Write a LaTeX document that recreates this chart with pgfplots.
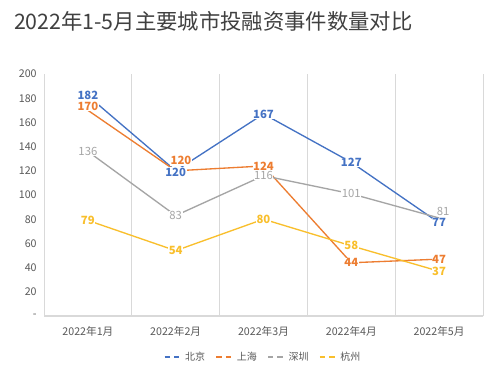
\documentclass[border=0pt]{standalone}
\usepackage{pgfplots}
\pgfplotsset{compat=1.18}
\usepackage{fontspec}
\setmainfont{Noto Sans CJK SC}
\definecolor{cbj}{HTML}{4472C4}
\definecolor{csh}{HTML}{ED7D31}
\definecolor{csz}{HTML}{A5A5A5}
\definecolor{chz}{HTML}{F9BF2C}
\definecolor{tick}{HTML}{595959}
\definecolor{grd}{HTML}{D9D9D9}
\begin{document}
\begin{tikzpicture}
\useasboundingbox[fill=white] (0,0) rectangle (375pt,282pt);
\node[anchor=west,text=black!75,font=\fontsize{16pt}{18pt}\selectfont] at (7pt,266pt) {2022年1-5月主要城市投融资事件数量对比};
\begin{axis}[
  at={(33pt,45pt)}, anchor=south west,
  scale only axis, width=329.25pt, height=181.5pt,
  xmin=-0.5, xmax=4.5, ymin=0, ymax=200,
  xtick={0,1,2,3,4},
  xticklabels={2022年1月,2022年2月,2022年3月,2022年4月,2022年5月},
  minor xtick={-0.5,0.5,1.5,2.5,3.5,4.5},
  xminorgrids=true,
  minor grid style={grd, line width=0.6pt},
  major tick length=0pt,
  minor tick length=3.5pt,
  minor tick style={grd, line width=0.6pt},
  ytick={0,20,...,200},
  yticklabels={-,20,40,60,80,100,120,140,160,180,200},
  axis lines*=left,
  y axis line style={draw=none},
  x axis line style={grd, line width=0.8pt, -},
  tick label style={text=tick, font=\fontsize{8pt}{9pt}\selectfont},
  xticklabel style={yshift=-4pt},
  yticklabel style={xshift=-2pt},
  /pgf/number format/assume math mode=true,
  legend columns=4,
  legend style={at={(0.5,-0.17)}, anchor=center, draw=none, fill=none,
    font=\fontsize{7.5pt}{9pt}\selectfont, text=tick,
    /tikz/every even column/.append style={column sep=6pt}},
  legend image code/.code={\draw[#1, dash pattern=on 4pt off 3pt] (0cm,0cm) -- (0.45cm,0cm);},
  nodes near coords,
  every node near coord/.append style={anchor=center, fill=white, inner sep=0.4pt, font=\fontsize{8.5pt}{9pt}\selectfont},
]
\addplot[cbj, line width=1pt, mark=none,
  every node near coord/.append style={text=cbj, font=\fontsize{8.5pt}{9pt}\selectfont\bfseries},
  coordinate style/.condition={\coordindex==1}{yshift=-1pt}]
  coordinates {(0,182) (1,120) (2,167) (3,127) (4,77)};
\addlegendentry{北京}
\addplot[csh, line width=1pt, mark=none,
  every node near coord/.append style={text=csh, font=\fontsize{8.5pt}{9pt}\selectfont\bfseries},
  coordinate style/.condition={\coordindex==0}{yshift=3pt},
  coordinate style/.condition={\coordindex==1}{yshift=7.5pt, xshift=4pt}]
  coordinates {(0,170) (1,120) (2,124) (3,44) (4,47)};
\addlegendentry{上海}
\addplot[csz, line width=1pt, mark=none,
  every node near coord/.append style={text=csz},
  coordinate style/.condition={\coordindex==4}{yshift=5pt, xshift=3pt}]
  coordinates {(0,136) (1,83) (2,116) (3,101) (4,81)};
\addlegendentry{深圳}
\addplot[chz, line width=1pt, mark=none,
  every node near coord/.append style={text=chz, font=\fontsize{8.5pt}{9pt}\selectfont\bfseries}]
  coordinates {(0,79) (1,54) (2,80) (3,58) (4,37)};
\addlegendentry{杭州}
\end{axis}
\end{tikzpicture}
\end{document}
